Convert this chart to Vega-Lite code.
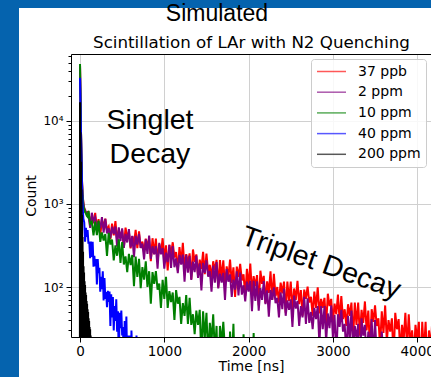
{
  "$schema": "https://vega.github.io/schema/vega-lite/v6.json",
  "background": "white",
  "padding": 0,
  "bounds": "flush",
  "spacing": 0,
  "resolve": {"scale": {"color": "independent"}, "legend": {"color": "independent"}},
  "config": {
    "font": "DejaVu Sans",
    "view": {"stroke": null},
    "axis": {"labelColor": "black", "titleColor": "black", "tickColor": "black", "domainColor": "black", "titleFontWeight": "normal", "gridColor": "#d0d0d0", "gridWidth": 1, "tickWidth": 1, "domainWidth": 1},
    "title": {"color": "black"}
  },
  "vconcat": [
    {"width": 431, "height": 8, "data": {"values": []}, "mark": "point", "view": {"fill": "#0563ae", "stroke": null}},
    {
      "bounds": "flush",
      "spacing": 52,
      "resolve": {"scale": {"color": "independent"}, "legend": {"color": "independent"}},
      "hconcat": [
        {"width": 19, "height": 369, "data": {"values": []}, "mark": "point", "view": {"fill": "#0563ae", "stroke": null}},
        {
          "bounds": "flush",
          "spacing": 0,
          "resolve": {"scale": {"color": "independent"}, "legend": {"color": "independent"}},
          "vconcat": [
            {"width": 360, "height": 46, "data": {"values": []}, "mark": "point"},
            {
              "width": 360,
              "height": 283,
              "title": {"text": "Simulated", "font": "Liberation Sans", "fontSize": 23, "fontWeight": "normal", "anchor": "middle", "dx": -34, "offset": 8, "color": "black"},
              "resolve": {"axis": {"x": "independent"}},
              "layer": [
                {
                  "data": {"values": [
{"s":"37 ppb","t":0,"c":46000},{"s":"37 ppb","t":4,"c":25000},{"s":"37 ppb","t":8,"c":13000},{"s":"37 ppb","t":12,"c":7000},{"s":"37 ppb","t":16,"c":4000},{"s":"37 ppb","t":20,"c":2500},{"s":"37 ppb","t":25,"c":1700},{"s":"37 ppb","t":30,"c":1300},{"s":"37 ppb","t":40,"c":1040},{"s":"37 ppb","t":50,"c":880},{"s":"37 ppb","t":60,"c":860},{"s":"37 ppb","t":70,"c":780},{"s":"37 ppb","t":80,"c":790},{"s":"37 ppb","t":90,"c":710},
{"s":"37 ppb","t":100,"c":821},{"s":"37 ppb","t":120,"c":541},{"s":"37 ppb","t":140,"c":712},{"s":"37 ppb","t":160,"c":586},{"s":"37 ppb","t":180,"c":780},
{"s":"37 ppb","t":200,"c":516},{"s":"37 ppb","t":220,"c":658},{"s":"37 ppb","t":240,"c":414},{"s":"37 ppb","t":260,"c":647},{"s":"37 ppb","t":280,"c":532},
{"s":"37 ppb","t":300,"c":667},{"s":"37 ppb","t":320,"c":487},{"s":"37 ppb","t":340,"c":535},{"s":"37 ppb","t":360,"c":378},{"s":"37 ppb","t":380,"c":579},
{"s":"37 ppb","t":400,"c":419},{"s":"37 ppb","t":420,"c":621},{"s":"37 ppb","t":440,"c":370},{"s":"37 ppb","t":460,"c":484},{"s":"37 ppb","t":480,"c":403},
{"s":"37 ppb","t":500,"c":484},{"s":"37 ppb","t":520,"c":297},{"s":"37 ppb","t":540,"c":518},{"s":"37 ppb","t":560,"c":400},{"s":"37 ppb","t":580,"c":459},
{"s":"37 ppb","t":600,"c":292},{"s":"37 ppb","t":620,"c":410},{"s":"37 ppb","t":640,"c":332},{"s":"37 ppb","t":660,"c":487},{"s":"37 ppb","t":680,"c":293},
{"s":"37 ppb","t":700,"c":468},{"s":"37 ppb","t":720,"c":295},{"s":"37 ppb","t":740,"c":353},{"s":"37 ppb","t":760,"c":259},{"s":"37 ppb","t":780,"c":383},
{"s":"37 ppb","t":800,"c":303},{"s":"37 ppb","t":820,"c":391},{"s":"37 ppb","t":840,"c":204},{"s":"37 ppb","t":860,"c":387},{"s":"37 ppb","t":880,"c":249},
{"s":"37 ppb","t":900,"c":384},{"s":"37 ppb","t":920,"c":204},{"s":"37 ppb","t":940,"c":327},{"s":"37 ppb","t":960,"c":251},{"s":"37 ppb","t":980,"c":387},
{"s":"37 ppb","t":1000,"c":217},{"s":"37 ppb","t":1020,"c":318},{"s":"37 ppb","t":1040,"c":158},{"s":"37 ppb","t":1060,"c":322},{"s":"37 ppb","t":1080,"c":248},
{"s":"37 ppb","t":1100,"c":346},{"s":"37 ppb","t":1120,"c":227},{"s":"37 ppb","t":1140,"c":264},{"s":"37 ppb","t":1160,"c":158},{"s":"37 ppb","t":1180,"c":303},
{"s":"37 ppb","t":1200,"c":193},{"s":"37 ppb","t":1220,"c":340},{"s":"37 ppb","t":1240,"c":166},{"s":"37 ppb","t":1260,"c":249},{"s":"37 ppb","t":1280,"c":194},
{"s":"37 ppb","t":1300,"c":254},{"s":"37 ppb","t":1320,"c":124},{"s":"37 ppb","t":1340,"c":283},{"s":"37 ppb","t":1360,"c":201},{"s":"37 ppb","t":1380,"c":247},
{"s":"37 ppb","t":1400,"c":137},{"s":"37 ppb","t":1420,"c":214},{"s":"37 ppb","t":1440,"c":165},{"s":"37 ppb","t":1460,"c":266},{"s":"37 ppb","t":1480,"c":143},
{"s":"37 ppb","t":1500,"c":253},{"s":"37 ppb","t":1520,"c":149},{"s":"37 ppb","t":1540,"c":185},{"s":"37 ppb","t":1560,"c":130},{"s":"37 ppb","t":1580,"c":204},
{"s":"37 ppb","t":1600,"c":158},{"s":"37 ppb","t":1620,"c":212},{"s":"37 ppb","t":1640,"c":99},{"s":"37 ppb","t":1660,"c":211},{"s":"37 ppb","t":1680,"c":128},
{"s":"37 ppb","t":1700,"c":209},{"s":"37 ppb","t":1720,"c":101},{"s":"37 ppb","t":1740,"c":177},{"s":"37 ppb","t":1760,"c":130},{"s":"37 ppb","t":1780,"c":214},
{"s":"37 ppb","t":1800,"c":112},{"s":"37 ppb","t":1820,"c":173},{"s":"37 ppb","t":1840,"c":76},{"s":"37 ppb","t":1860,"c":176},{"s":"37 ppb","t":1880,"c":132},
{"s":"37 ppb","t":1900,"c":190},{"s":"37 ppb","t":1920,"c":120},{"s":"37 ppb","t":1940,"c":142},{"s":"37 ppb","t":1960,"c":78},{"s":"37 ppb","t":1980,"c":166},
{"s":"37 ppb","t":2000,"c":101},{"s":"37 ppb","t":2020,"c":191},{"s":"37 ppb","t":2040,"c":85},{"s":"37 ppb","t":2060,"c":135},{"s":"37 ppb","t":2080,"c":102},
{"s":"37 ppb","t":2100,"c":139},{"s":"37 ppb","t":2120,"c":60},{"s":"37 ppb","t":2140,"c":157},{"s":"37 ppb","t":2160,"c":109},{"s":"37 ppb","t":2180,"c":136},
{"s":"37 ppb","t":2200,"c":64},{"s":"37 ppb","t":2220,"c":117},{"s":"37 ppb","t":2240,"c":85},{"s":"37 ppb","t":2260,"c":155},{"s":"37 ppb","t":2280,"c":70},
{"s":"37 ppb","t":2300,"c":144},{"s":"37 ppb","t":2320,"c":77},{"s":"37 ppb","t":2340,"c":100},{"s":"37 ppb","t":2360,"c":65},{"s":"37 ppb","t":2380,"c":113},
{"s":"37 ppb","t":2400,"c":84},{"s":"37 ppb","t":2420,"c":116},{"s":"37 ppb","t":2440,"c":49},{"s":"37 ppb","t":2460,"c":116},{"s":"37 ppb","t":2480,"c":68},
{"s":"37 ppb","t":2500,"c":116},{"s":"37 ppb","t":2520,"c":52},{"s":"37 ppb","t":2540,"c":96},{"s":"37 ppb","t":2560,"c":70},{"s":"37 ppb","t":2580,"c":119},
{"s":"37 ppb","t":2600,"c":62},{"s":"37 ppb","t":2620,"c":92},{"s":"37 ppb","t":2640,"c":45},{"s":"37 ppb","t":2660,"c":93},{"s":"37 ppb","t":2680,"c":72},
{"s":"37 ppb","t":2700,"c":101},{"s":"37 ppb","t":2720,"c":65},{"s":"37 ppb","t":2740,"c":76},{"s":"37 ppb","t":2760,"c":45},{"s":"37 ppb","t":2780,"c":88},
{"s":"37 ppb","t":2800,"c":56},{"s":"37 ppb","t":2820,"c":99},{"s":"37 ppb","t":2840,"c":48},{"s":"37 ppb","t":2860,"c":72},{"s":"37 ppb","t":2880,"c":56},
{"s":"37 ppb","t":2900,"c":74},{"s":"37 ppb","t":2920,"c":35},{"s":"37 ppb","t":2940,"c":83},{"s":"37 ppb","t":2960,"c":59},{"s":"37 ppb","t":2980,"c":72},
{"s":"37 ppb","t":3000,"c":37},{"s":"37 ppb","t":3020,"c":63},{"s":"37 ppb","t":3040,"c":47},{"s":"37 ppb","t":3060,"c":81},{"s":"37 ppb","t":3080,"c":39},
{"s":"37 ppb","t":3100,"c":78},{"s":"37 ppb","t":3120,"c":41},{"s":"37 ppb","t":3140,"c":54},{"s":"37 ppb","t":3160,"c":34},{"s":"37 ppb","t":3180,"c":62},
{"s":"37 ppb","t":3200,"c":45},{"s":"37 ppb","t":3220,"c":65},{"s":"37 ppb","t":3240,"c":24},{"s":"37 ppb","t":3260,"c":65},{"s":"37 ppb","t":3280,"c":35},
{"s":"37 ppb","t":3300,"c":65},{"s":"37 ppb","t":3320,"c":26},{"s":"37 ppb","t":3340,"c":53},{"s":"37 ppb","t":3360,"c":37},{"s":"37 ppb","t":3380,"c":67},
{"s":"37 ppb","t":3400,"c":30},{"s":"37 ppb","t":3420,"c":52},{"s":"37 ppb","t":3440,"c":18},{"s":"37 ppb","t":3460,"c":54},{"s":"37 ppb","t":3480,"c":38},
{"s":"37 ppb","t":3500,"c":60},{"s":"37 ppb","t":3520,"c":34},{"s":"37 ppb","t":3540,"c":42},{"s":"37 ppb","t":3560,"c":19},{"s":"37 ppb","t":3580,"c":51},
{"s":"37 ppb","t":3600,"c":28},{"s":"37 ppb","t":3620,"c":60},{"s":"37 ppb","t":3640,"c":22},{"s":"37 ppb","t":3660,"c":40},{"s":"37 ppb","t":3680,"c":29},
{"s":"37 ppb","t":3700,"c":42},{"s":"37 ppb","t":3720,"c":14},{"s":"37 ppb","t":3740,"c":49},{"s":"37 ppb","t":3760,"c":31},{"s":"37 ppb","t":3780,"c":41},
{"s":"37 ppb","t":3800,"c":16},{"s":"37 ppb","t":3820,"c":35},{"s":"37 ppb","t":3840,"c":23},{"s":"37 ppb","t":3860,"c":49},{"s":"37 ppb","t":3880,"c":18},
{"s":"37 ppb","t":3900,"c":47},{"s":"37 ppb","t":3920,"c":20},{"s":"37 ppb","t":3940,"c":30},{"s":"37 ppb","t":3960,"c":15},{"s":"37 ppb","t":3980,"c":35},
{"s":"37 ppb","t":4000,"c":23},{"s":"37 ppb","t":4020,"c":38},{"s":"37 ppb","t":4040,"c":8},{"s":"37 ppb","t":4060,"c":38},{"s":"37 ppb","t":4080,"c":16},
{"s":"37 ppb","t":4100,"c":38},{"s":"37 ppb","t":4120,"c":10},{"s":"37 ppb","t":4140,"c":30},{"s":"37 ppb","t":4160,"c":18},{"s":"37 ppb","t":4180,"c":41},{"s":"37 ppb","t":4200,"c":14},
{"s":"2 ppm","t":0,"c":47000},{"s":"2 ppm","t":4,"c":25500},{"s":"2 ppm","t":8,"c":13200},{"s":"2 ppm","t":12,"c":7100},{"s":"2 ppm","t":16,"c":4050},{"s":"2 ppm","t":20,"c":2550},{"s":"2 ppm","t":25,"c":1720},{"s":"2 ppm","t":30,"c":1310},{"s":"2 ppm","t":40,"c":1010},{"s":"2 ppm","t":50,"c":890},{"s":"2 ppm","t":60,"c":830},{"s":"2 ppm","t":70,"c":800},{"s":"2 ppm","t":80,"c":750},{"s":"2 ppm","t":90,"c":720},
{"s":"2 ppm","t":100,"c":761},{"s":"2 ppm","t":120,"c":516},{"s":"2 ppm","t":140,"c":784},{"s":"2 ppm","t":160,"c":627},{"s":"2 ppm","t":180,"c":690},
{"s":"2 ppm","t":200,"c":474},{"s":"2 ppm","t":220,"c":615},{"s":"2 ppm","t":240,"c":512},{"s":"2 ppm","t":260,"c":696},{"s":"2 ppm","t":280,"c":452},
{"s":"2 ppm","t":300,"c":661},{"s":"2 ppm","t":320,"c":443},{"s":"2 ppm","t":340,"c":509},{"s":"2 ppm","t":360,"c":390},{"s":"2 ppm","t":380,"c":531},
{"s":"2 ppm","t":400,"c":435},{"s":"2 ppm","t":420,"c":536},{"s":"2 ppm","t":440,"c":306},{"s":"2 ppm","t":460,"c":523},{"s":"2 ppm","t":480,"c":357},
{"s":"2 ppm","t":500,"c":509},{"s":"2 ppm","t":520,"c":296},{"s":"2 ppm","t":540,"c":437},{"s":"2 ppm","t":560,"c":344},{"s":"2 ppm","t":580,"c":499},
{"s":"2 ppm","t":600,"c":300},{"s":"2 ppm","t":620,"c":413},{"s":"2 ppm","t":640,"c":228},{"s":"2 ppm","t":660,"c":412},{"s":"2 ppm","t":680,"c":325},
{"s":"2 ppm","t":700,"c":435},{"s":"2 ppm","t":720,"c":296},{"s":"2 ppm","t":740,"c":334},{"s":"2 ppm","t":760,"c":215},{"s":"2 ppm","t":780,"c":376},
{"s":"2 ppm","t":800,"c":250},{"s":"2 ppm","t":820,"c":415},{"s":"2 ppm","t":840,"c":218},{"s":"2 ppm","t":860,"c":309},{"s":"2 ppm","t":880,"c":247},
{"s":"2 ppm","t":900,"c":311},{"s":"2 ppm","t":920,"c":166},{"s":"2 ppm","t":940,"c":341},{"s":"2 ppm","t":960,"c":248},{"s":"2 ppm","t":980,"c":295},
{"s":"2 ppm","t":1000,"c":166},{"s":"2 ppm","t":1020,"c":260},{"s":"2 ppm","t":1040,"c":199},{"s":"2 ppm","t":1060,"c":323},{"s":"2 ppm","t":1080,"c":170},
{"s":"2 ppm","t":1100,"c":312},{"s":"2 ppm","t":1120,"c":173},{"s":"2 ppm","t":1140,"c":221},{"s":"2 ppm","t":1160,"c":147},{"s":"2 ppm","t":1180,"c":244},
{"s":"2 ppm","t":1200,"c":186},{"s":"2 ppm","t":1220,"c":246},{"s":"2 ppm","t":1240,"c":116},{"s":"2 ppm","t":1260,"c":244},{"s":"2 ppm","t":1280,"c":149},
{"s":"2 ppm","t":1300,"c":237},{"s":"2 ppm","t":1320,"c":122},{"s":"2 ppm","t":1340,"c":202},{"s":"2 ppm","t":1360,"c":151},{"s":"2 ppm","t":1380,"c":239},
{"s":"2 ppm","t":1400,"c":129},{"s":"2 ppm","t":1420,"c":193},{"s":"2 ppm","t":1440,"c":91},{"s":"2 ppm","t":1460,"c":195},{"s":"2 ppm","t":1480,"c":148},
{"s":"2 ppm","t":1500,"c":210},{"s":"2 ppm","t":1520,"c":133},{"s":"2 ppm","t":1540,"c":156},{"s":"2 ppm","t":1560,"c":88},{"s":"2 ppm","t":1580,"c":181},
{"s":"2 ppm","t":1600,"c":113},{"s":"2 ppm","t":1620,"c":200},{"s":"2 ppm","t":1640,"c":96},{"s":"2 ppm","t":1660,"c":145},{"s":"2 ppm","t":1680,"c":113},
{"s":"2 ppm","t":1700,"c":148},{"s":"2 ppm","t":1720,"c":70},{"s":"2 ppm","t":1740,"c":164},{"s":"2 ppm","t":1760,"c":116},{"s":"2 ppm","t":1780,"c":142},
{"s":"2 ppm","t":1800,"c":76},{"s":"2 ppm","t":1820,"c":123},{"s":"2 ppm","t":1840,"c":93},{"s":"2 ppm","t":1860,"c":154},{"s":"2 ppm","t":1880,"c":79},
{"s":"2 ppm","t":1900,"c":149},{"s":"2 ppm","t":1920,"c":81},{"s":"2 ppm","t":1940,"c":105},{"s":"2 ppm","t":1960,"c":67},{"s":"2 ppm","t":1980,"c":116},
{"s":"2 ppm","t":2000,"c":88},{"s":"2 ppm","t":2020,"c":119},{"s":"2 ppm","t":2040,"c":51},{"s":"2 ppm","t":2060,"c":119},{"s":"2 ppm","t":2080,"c":68},
{"s":"2 ppm","t":2100,"c":117},{"s":"2 ppm","t":2120,"c":52},{"s":"2 ppm","t":2140,"c":97},{"s":"2 ppm","t":2160,"c":70},{"s":"2 ppm","t":2180,"c":118},
{"s":"2 ppm","t":2200,"c":62},{"s":"2 ppm","t":2220,"c":91},{"s":"2 ppm","t":2240,"c":44},{"s":"2 ppm","t":2260,"c":92},{"s":"2 ppm","t":2280,"c":70},
{"s":"2 ppm","t":2300,"c":99},{"s":"2 ppm","t":2320,"c":64},{"s":"2 ppm","t":2340,"c":74},{"s":"2 ppm","t":2360,"c":43},{"s":"2 ppm","t":2380,"c":86},
{"s":"2 ppm","t":2400,"c":54},{"s":"2 ppm","t":2420,"c":96},{"s":"2 ppm","t":2440,"c":45},{"s":"2 ppm","t":2460,"c":69},{"s":"2 ppm","t":2480,"c":53},
{"s":"2 ppm","t":2500,"c":71},{"s":"2 ppm","t":2520,"c":33},{"s":"2 ppm","t":2540,"c":79},{"s":"2 ppm","t":2560,"c":55},{"s":"2 ppm","t":2580,"c":68},
{"s":"2 ppm","t":2600,"c":34},{"s":"2 ppm","t":2620,"c":59},{"s":"2 ppm","t":2640,"c":43},{"s":"2 ppm","t":2660,"c":76},{"s":"2 ppm","t":2680,"c":36},
{"s":"2 ppm","t":2700,"c":73},{"s":"2 ppm","t":2720,"c":37},{"s":"2 ppm","t":2740,"c":50},{"s":"2 ppm","t":2760,"c":31},{"s":"2 ppm","t":2780,"c":56},
{"s":"2 ppm","t":2800,"c":41},{"s":"2 ppm","t":2820,"c":59},{"s":"2 ppm","t":2840,"c":20},{"s":"2 ppm","t":2860,"c":59},{"s":"2 ppm","t":2880,"c":31},
{"s":"2 ppm","t":2900,"c":59},{"s":"2 ppm","t":2920,"c":22},{"s":"2 ppm","t":2940,"c":48},{"s":"2 ppm","t":2960,"c":32},{"s":"2 ppm","t":2980,"c":60},
{"s":"2 ppm","t":3000,"c":25},{"s":"2 ppm","t":3020,"c":46},{"s":"2 ppm","t":3040,"c":14},{"s":"2 ppm","t":3060,"c":47},{"s":"2 ppm","t":3080,"c":33},
{"s":"2 ppm","t":3100,"c":53},{"s":"2 ppm","t":3120,"c":29},{"s":"2 ppm","t":3140,"c":36},{"s":"2 ppm","t":3160,"c":15},{"s":"2 ppm","t":3180,"c":45},
{"s":"2 ppm","t":3200,"c":23},{"s":"2 ppm","t":3220,"c":52},{"s":"2 ppm","t":3240,"c":18},{"s":"2 ppm","t":3260,"c":34},{"s":"2 ppm","t":3280,"c":24},
{"s":"2 ppm","t":3300,"c":36},{"s":"2 ppm","t":3320,"c":10},{"s":"2 ppm","t":3340,"c":42},{"s":"2 ppm","t":3360,"c":26},{"s":"2 ppm","t":3380,"c":35},
{"s":"2 ppm","t":3400,"c":12},{"s":"2 ppm","t":3420,"c":29},{"s":"2 ppm","t":3440,"c":18},{"s":"2 ppm","t":3460,"c":41},{"s":"2 ppm","t":3480,"c":14},
{"s":"2 ppm","t":3500,"c":40},{"s":"2 ppm","t":3520,"c":15},{"s":"2 ppm","t":3540,"c":24},{"s":"2 ppm","t":3560,"c":11},{"s":"2 ppm","t":3580,"c":29},{"s":"2 ppm","t":3600,"c":15},
{"s":"10 ppm","t":0,"c":48600},{"s":"10 ppm","t":4,"c":26000},{"s":"10 ppm","t":8,"c":13500},{"s":"10 ppm","t":12,"c":7200},{"s":"10 ppm","t":16,"c":4000},{"s":"10 ppm","t":20,"c":2500},{"s":"10 ppm","t":25,"c":1650},{"s":"10 ppm","t":30,"c":1250},{"s":"10 ppm","t":40,"c":950},{"s":"10 ppm","t":50,"c":860},{"s":"10 ppm","t":60,"c":800},{"s":"10 ppm","t":70,"c":770},{"s":"10 ppm","t":80,"c":720},{"s":"10 ppm","t":90,"c":700},
{"s":"10 ppm","t":100,"c":825},{"s":"10 ppm","t":120,"c":580},{"s":"10 ppm","t":140,"c":610},{"s":"10 ppm","t":160,"c":419},{"s":"10 ppm","t":180,"c":613},
{"s":"10 ppm","t":200,"c":422},{"s":"10 ppm","t":220,"c":631},{"s":"10 ppm","t":240,"c":350},{"s":"10 ppm","t":260,"c":455},{"s":"10 ppm","t":280,"c":363},
{"s":"10 ppm","t":300,"c":435},{"s":"10 ppm","t":320,"c":237},{"s":"10 ppm","t":340,"c":448},{"s":"10 ppm","t":360,"c":325},{"s":"10 ppm","t":380,"c":373},
{"s":"10 ppm","t":400,"c":209},{"s":"10 ppm","t":420,"c":317},{"s":"10 ppm","t":440,"c":238},{"s":"10 ppm","t":460,"c":374},{"s":"10 ppm","t":480,"c":195},
{"s":"10 ppm","t":500,"c":348},{"s":"10 ppm","t":520,"c":187},{"s":"10 ppm","t":540,"c":234},{"s":"10 ppm","t":560,"c":151},{"s":"10 ppm","t":580,"c":250},
{"s":"10 ppm","t":600,"c":184},{"s":"10 ppm","t":620,"c":243},{"s":"10 ppm","t":640,"c":102},{"s":"10 ppm","t":660,"c":233},{"s":"10 ppm","t":680,"c":132},
{"s":"10 ppm","t":700,"c":219},{"s":"10 ppm","t":720,"c":97},{"s":"10 ppm","t":740,"c":174},{"s":"10 ppm","t":760,"c":123},{"s":"10 ppm","t":780,"c":204},
{"s":"10 ppm","t":800,"c":100},{"s":"10 ppm","t":820,"c":155},{"s":"10 ppm","t":840,"c":63},{"s":"10 ppm","t":860,"c":151},{"s":"10 ppm","t":880,"c":109},
{"s":"10 ppm","t":900,"c":155},{"s":"10 ppm","t":920,"c":93},{"s":"10 ppm","t":940,"c":110},{"s":"10 ppm","t":960,"c":56},{"s":"10 ppm","t":980,"c":122},
{"s":"10 ppm","t":1000,"c":72},{"s":"10 ppm","t":1020,"c":133},{"s":"10 ppm","t":1040,"c":56},{"s":"10 ppm","t":1060,"c":89},{"s":"10 ppm","t":1080,"c":66},
{"s":"10 ppm","t":1100,"c":86},{"s":"10 ppm","t":1120,"c":40},{"s":"10 ppm","t":1140,"c":92},{"s":"10 ppm","t":1160,"c":63},{"s":"10 ppm","t":1180,"c":76},
{"s":"10 ppm","t":1200,"c":36},{"s":"10 ppm","t":1220,"c":64},{"s":"10 ppm","t":1240,"c":45},{"s":"10 ppm","t":1260,"c":80},{"s":"10 ppm","t":1280,"c":36},
{"s":"10 ppm","t":1300,"c":74},{"s":"10 ppm","t":1320,"c":35},{"s":"10 ppm","t":1340,"c":47},{"s":"10 ppm","t":1360,"c":27},{"s":"10 ppm","t":1380,"c":52},
{"s":"10 ppm","t":1400,"c":35},{"s":"10 ppm","t":1420,"c":53},{"s":"10 ppm","t":1440,"c":14},{"s":"10 ppm","t":1460,"c":51},{"s":"10 ppm","t":1480,"c":24},
{"s":"10 ppm","t":1500,"c":49},{"s":"10 ppm","t":1520,"c":14},{"s":"10 ppm","t":1540,"c":37},{"s":"10 ppm","t":1560,"c":22},{"s":"10 ppm","t":1580,"c":47},
{"s":"10 ppm","t":1600,"c":16},{"s":"10 ppm","t":1620,"c":34},{"s":"10 ppm","t":1640,"c":5},{"s":"10 ppm","t":1660,"c":34},{"s":"10 ppm","t":1680,"c":21},
{"s":"10 ppm","t":1700,"c":38},{"s":"10 ppm","t":1720,"c":17},{"s":"10 ppm","t":1740,"c":23},{"s":"10 ppm","t":1760,"c":6},{"s":"10 ppm","t":1780,"c":29},
{"s":"10 ppm","t":1800,"c":11},{"s":"10 ppm","t":1820,"c":36},{"s":"10 ppm","t":1840,"c":7},{"s":"10 ppm","t":1860,"c":20},{"s":"10 ppm","t":1880,"c":11},
{"s":"10 ppm","t":1900,"c":20},{"s":"10 ppm","t":1920,"c":3},{"s":"10 ppm","t":1940,"c":27},{"s":"10 ppm","t":1960,"c":12},{"s":"10 ppm","t":1980,"c":18},
{"s":"10 ppm","t":2000,"c":2},{"s":"10 ppm","t":2020,"c":14},{"s":"10 ppm","t":2040,"c":6},{"s":"10 ppm","t":2060,"c":28},{"s":"10 ppm","t":2080,"c":3},{"s":"10 ppm","t":2100,"c":15},
{"s":"40 ppm","t":0,"c":33000},{"s":"40 ppm","t":5,"c":16900},{"s":"40 ppm","t":10,"c":8590},{"s":"40 ppm","t":15,"c":4600},{"s":"40 ppm","t":20,"c":2530},{"s":"40 ppm","t":25,"c":1550},{"s":"40 ppm","t":30,"c":1050},{"s":"40 ppm","t":35,"c":800},{"s":"40 ppm","t":40,"c":664},
{"s":"40 ppm","t":50,"c":600},{"s":"40 ppm","t":60,"c":352},{"s":"40 ppm","t":70,"c":515},{"s":"40 ppm","t":80,"c":402},
{"s":"40 ppm","t":90,"c":484},{"s":"40 ppm","t":100,"c":332},{"s":"40 ppm","t":110,"c":351},{"s":"40 ppm","t":120,"c":223},{"s":"40 ppm","t":130,"c":352},
{"s":"40 ppm","t":140,"c":230},{"s":"40 ppm","t":150,"c":350},{"s":"40 ppm","t":160,"c":176},{"s":"40 ppm","t":170,"c":238},{"s":"40 ppm","t":180,"c":178},
{"s":"40 ppm","t":190,"c":217},{"s":"40 ppm","t":200,"c":107},{"s":"40 ppm","t":210,"c":217},{"s":"40 ppm","t":220,"c":147},{"s":"40 ppm","t":230,"c":171},
{"s":"40 ppm","t":240,"c":88},{"s":"40 ppm","t":250,"c":133},{"s":"40 ppm","t":260,"c":94},{"s":"40 ppm","t":270,"c":155},{"s":"40 ppm","t":280,"c":69},
{"s":"40 ppm","t":290,"c":128},{"s":"40 ppm","t":300,"c":72},{"s":"40 ppm","t":310,"c":87},{"s":"40 ppm","t":320,"c":57},{"s":"40 ppm","t":330,"c":90},
{"s":"40 ppm","t":340,"c":66},{"s":"40 ppm","t":350,"c":88},{"s":"40 ppm","t":360,"c":34},{"s":"40 ppm","t":370,"c":82},{"s":"40 ppm","t":380,"c":43},
{"s":"40 ppm","t":390,"c":76},{"s":"40 ppm","t":400,"c":30},{"s":"40 ppm","t":410,"c":59},{"s":"40 ppm","t":420,"c":39},{"s":"40 ppm","t":430,"c":71},
{"s":"40 ppm","t":440,"c":29},{"s":"40 ppm","t":450,"c":51},{"s":"40 ppm","t":460,"c":13},{"s":"40 ppm","t":470,"c":49},{"s":"40 ppm","t":480,"c":32},
{"s":"40 ppm","t":490,"c":52},{"s":"40 ppm","t":500,"c":26},{"s":"40 ppm","t":510,"c":33},{"s":"40 ppm","t":520,"c":10},{"s":"40 ppm","t":530,"c":39},
{"s":"40 ppm","t":540,"c":17},{"s":"40 ppm","t":550,"c":44},{"s":"40 ppm","t":560,"c":11},{"s":"40 ppm","t":570,"c":26},{"s":"40 ppm","t":580,"c":15},
{"s":"40 ppm","t":590,"c":26},{"s":"40 ppm","t":600,"c":2},{"s":"40 ppm","t":610,"c":30},{"s":"40 ppm","t":620,"c":15},{"s":"40 ppm","t":630,"c":23},
{"s":"40 ppm","t":640,"c":3},{"s":"40 ppm","t":650,"c":17},{"s":"40 ppm","t":660,"c":8},{"s":"40 ppm","t":670,"c":26},{"s":"40 ppm","t":680,"c":4},
{"s":"40 ppm","t":690,"c":22},{"s":"40 ppm","t":700,"c":5},{"s":"40 ppm","t":710,"c":14},{"s":"40 ppm","t":720,"c":4},
{"s":"200 ppm","t":-2,"c":1},{"s":"200 ppm","t":0,"c":16800},{"s":"200 ppm","t":3,"c":2},{"s":"200 ppm","t":6,"c":7300},{"s":"200 ppm","t":9,"c":3},{"s":"200 ppm","t":12,"c":3230},{"s":"200 ppm","t":15,"c":2},{"s":"200 ppm","t":18,"c":1490},{"s":"200 ppm","t":21,"c":4},{"s":"200 ppm","t":24,"c":740},{"s":"200 ppm","t":27,"c":2},{"s":"200 ppm","t":30,"c":400},{"s":"200 ppm","t":33,"c":3},{"s":"200 ppm","t":36,"c":265},{"s":"200 ppm","t":39,"c":1},{"s":"200 ppm","t":42,"c":178},{"s":"200 ppm","t":45,"c":3},{"s":"200 ppm","t":48,"c":150},{"s":"200 ppm","t":51,"c":2},{"s":"200 ppm","t":54,"c":117},{"s":"200 ppm","t":57,"c":4},{"s":"200 ppm","t":60,"c":106},{"s":"200 ppm","t":63,"c":2},{"s":"200 ppm","t":66,"c":86},{"s":"200 ppm","t":69,"c":3},{"s":"200 ppm","t":72,"c":80},{"s":"200 ppm","t":75,"c":1},{"s":"200 ppm","t":78,"c":68},{"s":"200 ppm","t":81,"c":4},{"s":"200 ppm","t":84,"c":63},{"s":"200 ppm","t":87,"c":2},{"s":"200 ppm","t":90,"c":54},{"s":"200 ppm","t":93,"c":3},{"s":"200 ppm","t":96,"c":50},{"s":"200 ppm","t":99,"c":2},{"s":"200 ppm","t":102,"c":42},{"s":"200 ppm","t":105,"c":5},{"s":"200 ppm","t":108,"c":39},{"s":"200 ppm","t":111,"c":2},{"s":"200 ppm","t":114,"c":33},{"s":"200 ppm","t":117,"c":3},{"s":"200 ppm","t":120,"c":31},{"s":"200 ppm","t":123,"c":1},{"s":"200 ppm","t":126,"c":26},{"s":"200 ppm","t":129,"c":4},{"s":"200 ppm","t":132,"c":24},{"s":"200 ppm","t":135,"c":2},{"s":"200 ppm","t":138,"c":21},{"s":"200 ppm","t":141,"c":3},{"s":"200 ppm","t":144,"c":18}
                  ]},
                  "mark": {"type": "line", "clip": true, "strokeWidth": 2},
                  "encoding": {
                    "x": {"field": "t", "type": "quantitative", "scale": {"domain": [-107, 4164], "nice": false, "zero": false},
                      "axis": {"orient": "bottom", "title": "Time [ns]", "titleFontSize": 14, "titlePadding": 2, "values": [0, 1000, 2000, 3000, 4000], "format": "d", "labelFontSize": 13.5, "labelPadding": 2, "tickSize": 5, "labelFlush": false, "labelOverlap": false, "domain": true}},
                    "y": {"field": "c", "type": "quantitative", "scale": {"type": "log", "domain": [25, 64000], "nice": false},
                      "axis": {"title": "Count", "titleFontSize": 14, "titlePadding": 4,
                        "values": [30, 40, 50, 60, 70, 80, 90, 100, 200, 300, 400, 500, 600, 700, 800, 900, 1000, 2000, 3000, 4000, 5000, 6000, 7000, 8000, 9000, 10000, 20000, 30000, 40000, 50000, 60000],
                        "labelExpr": "datum.value == 100 ? '10²' : datum.value == 1000 ? '10³' : datum.value == 10000 ? '10⁴' : ''",
                        "labelFontSize": 12, "labelPadding": 3, "labelOverlap": false, "labelFlush": false, "domain": true,
                        "tickSize": {"condition": {"test": "indexof([100, 1000, 10000], datum.value) >= 0", "value": 5}, "value": 3},
                        "gridOpacity": {"condition": {"test": "indexof([100, 1000, 10000], datum.value) >= 0", "value": 1}, "value": 0}}},
                    "color": {"field": "s", "type": "nominal",
                      "scale": {"domain": ["37 ppb", "2 ppm", "10 ppm", "40 ppm", "200 ppm"], "range": ["#ff0000", "#800080", "#008000", "#0000ff", "#000000"]},
                      "legend": {"orient": "top-right", "offset": 5, "title": null, "fillColor": "rgba(255,255,255,0.85)", "strokeColor": "#cccccc", "cornerRadius": 3, "padding": 5, "symbolType": "stroke", "symbolSize": 841, "symbolStrokeWidth": 1.5, "symbolOpacity": 0.65, "labelFont": "DejaVu Sans", "labelFontSize": 14, "labelColor": "black", "labelOffset": 11, "clipHeight": 15, "rowPadding": 5.7}}
                  }
                },
                {
                  "data": {"values": [{}]},
                  "mark": {"type": "text", "text": ["Singlet", "Decay"], "font": "Liberation Sans", "fontSize": 28.5, "lineHeight": 33.4, "align": "center", "baseline": "alphabetic", "color": "black"},
                  "encoding": {
                    "x": {"datum": 830, "type": "quantitative", "scale": {"domain": [-107, 4164], "nice": false, "zero": false},
                      "axis": {"orient": "top", "title": "Scintillation of LAr with N2 Quenching", "titleFontSize": 16.7, "titleFont": "DejaVu Sans", "titlePadding": 3, "labels": false, "ticks": false, "grid": false, "domain": true}},
                    "y": {"datum": 7940, "type": "quantitative", "scale": {"type": "log", "domain": [25, 64000], "nice": false}, "title": "Count"}
                  }
                },
                {
                  "data": {"values": [{}]},
                  "mark": {"type": "text", "text": "Triplet Decay", "font": "Liberation Sans", "fontSize": 28.5, "angle": 19.5, "align": "center", "baseline": "middle", "color": "black"},
                  "encoding": {
                    "x": {"datum": 2859, "type": "quantitative", "scale": {"domain": [-107, 4164], "nice": false, "zero": false}, "axis": null},
                    "y": {"datum": 195, "type": "quantitative", "scale": {"type": "log", "domain": [25, 64000], "nice": false}, "title": "Count"}
                  }
                }
              ]
            }
          ]
        }
      ]
    }
  ]
}
